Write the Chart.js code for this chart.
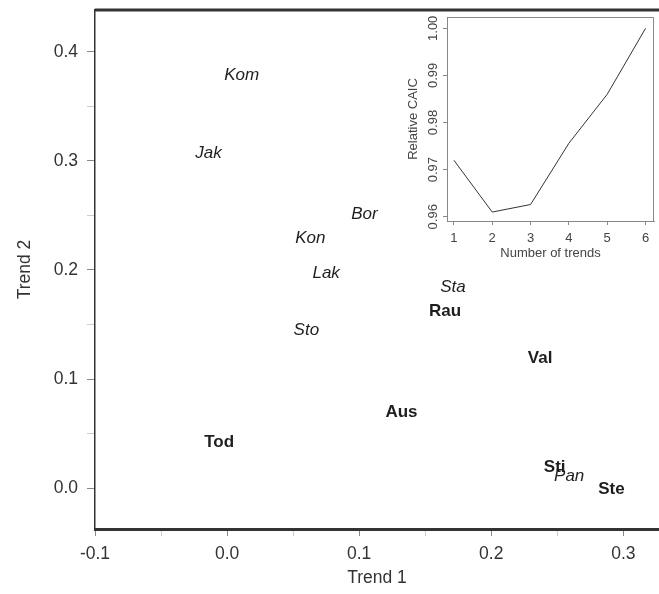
<!DOCTYPE html>
<html>
<head>
<meta charset="utf-8">
<script src="https://cdn.jsdelivr.net/npm/chart.js@4"></script>
<style>
  html, body { margin: 0; padding: 0; background: #fff; overflow: hidden; }
  #wrap { position: relative; width: 659px; height: 594px; }
  #mainChart { position: absolute; left: 0; top: 0; }
  #insetChart { position: absolute; left: 395px; top: 5px; }
</style>
</head>
<body>
<div id="wrap">
  <canvas id="mainChart" width="659" height="594"></canvas>
  <canvas id="insetChart" width="264" height="265"></canvas>
</div>
<script>
// Site scores on the first two trends
const sites = ['Kom', 'Jak', 'Bor', 'Kon', 'Lak', 'Sta', 'Rau', 'Sto', 'Val', 'Aus', 'Tod', 'Sti', 'Pan', 'Ste'];
const trend1 = [0.011, -0.014, 0.104, 0.063, 0.075, 0.171, 0.165, 0.060, 0.237, 0.132, -0.006, 0.248, 0.259, 0.291];
const trend2 = [0.379, 0.307, 0.251, 0.229, 0.197, 0.184, 0.162, 0.145, 0.119, 0.069, 0.042, 0.019, 0.011, -0.001];
// site group: 'A' drawn bold, 'B' drawn italic
const siteGroup = ['B', 'B', 'B', 'B', 'B', 'B', 'A', 'B', 'A', 'A', 'A', 'A', 'B', 'A'];

// Inset: model selection
const nTrends = [1, 2, 3, 4, 5, 6];
const relCaic = [0.972, 0.961, 0.9626, 0.9756, 0.986, 1.000];

const FONT = "'Liberation Sans', Arial, sans-serif";
const groupFont = { A: 'bold 17px ' + FONT, B: 'italic 17px ' + FONT };

function isMajor(v) {
  return Math.abs(v * 10 - Math.round(v * 10)) < 1e-6;
}

// Draws each site name at its score position
const siteLabels = {
  id: 'siteLabels',
  afterDatasetsDraw(chart) {
    const ctx = chart.ctx;
    const xs = chart.scales.x, ys = chart.scales.y;
    ctx.save();
    ctx.fillStyle = '#1e1e1e';
    ctx.textAlign = 'center';
    ctx.textBaseline = 'middle';
    sites.forEach((name, i) => {
      ctx.font = groupFont[siteGroup[i]];
      ctx.fillText(name, xs.getPixelForValue(trend1[i]), ys.getPixelForValue(trend2[i]));
    });
    ctx.restore();
  }
};

// Thick top frame line
const topFrame = {
  id: 'topFrame',
  afterDraw(chart) {
    const a = chart.chartArea, ctx = chart.ctx;
    ctx.save();
    ctx.strokeStyle = '#333';
    ctx.lineWidth = 3;
    ctx.beginPath();
    ctx.moveTo(a.left, a.top);
    ctx.lineTo(a.right, a.top);
    ctx.stroke();
    ctx.restore();
  }
};

const mainChart = new Chart(document.getElementById('mainChart'), {
  type: 'scatter',
  data: {
    datasets: [{
      data: sites.map((s, i) => ({ x: trend1[i], y: trend2[i] })),
      pointRadius: 0
    }]
  },
  options: {
    responsive: false,
    animation: false,
    layout: { padding: { top: 10, right: 0, left: 0, bottom: 0 } },
    plugins: { legend: { display: false }, tooltip: { enabled: false } },
    scales: {
      x: {
        type: 'linear',
        min: -0.1,
        max: 0.327,
        afterFit: s => { s.height = 65; s.paddingLeft = 0; s.paddingRight = 0; },
        ticks: {
          stepSize: 0.05,
          includeBounds: false,
          autoSkip: false,
          maxRotation: 0,
          padding: 8,
          color: '#333',
          font: { family: FONT, size: 17.5 },
          callback: v => isMajor(v) ? v.toFixed(1) : ''
        },
        grid: {
          drawOnChartArea: false,
          tickLength: 7,
          tickColor: c => isMajor(c.tick.value) ? '#888' : '#ccc'
        },
        border: { color: '#333', width: 3 },
        title: {
          display: true,
          text: 'Trend 1',
          color: '#333',
          font: { family: FONT, size: 17.5 },
          padding: { top: 0, bottom: 5 }
        }
      },
      y: {
        type: 'linear',
        min: -0.0376,
        max: 0.4385,
        afterFit: s => { s.width = 95; s.paddingTop = 0; s.paddingBottom = 0; },
        ticks: {
          stepSize: 0.05,
          includeBounds: false,
          autoSkip: false,
          padding: 9,
          color: '#333',
          font: { family: FONT, size: 17.5 },
          callback: v => isMajor(v) ? v.toFixed(1) : ''
        },
        grid: {
          drawOnChartArea: false,
          tickLength: 8,
          tickColor: c => isMajor(c.tick.value) ? '#888' : '#ccc'
        },
        border: { color: '#333', width: 1.5 },
        title: {
          display: true,
          text: 'Trend 2',
          color: '#333',
          font: { family: FONT, size: 17.5 },
          padding: { top: 15, bottom: 0 }
        }
      }
    }
  },
  plugins: [siteLabels, topFrame]
});

// Inset frame and rotated y tick labels
const insetExtras = {
  id: 'insetExtras',
  afterDraw(chart) {
    const a = chart.chartArea, ctx = chart.ctx;
    const ys = chart.scales.y;
    ctx.save();
    ctx.strokeStyle = '#888';
    ctx.lineWidth = 1;
    ctx.beginPath();
    ctx.moveTo(a.left, a.top + 0.5);
    ctx.lineTo(a.right - 0.5, a.top + 0.5);
    ctx.lineTo(a.right - 0.5, a.bottom);
    ctx.stroke();
    ctx.fillStyle = '#444';
    ctx.font = '13px ' + FONT;
    ctx.textAlign = 'center';
    ctx.textBaseline = 'middle';
    ys.ticks.forEach(t => {
      const y = ys.getPixelForValue(t.value);
      ctx.save();
      ctx.translate(a.left - 14, y);
      ctx.rotate(-Math.PI / 2);
      ctx.fillText(t.value.toFixed(2), 0, 0);
      ctx.restore();
    });
    ctx.restore();
  }
};

const insetChart = new Chart(document.getElementById('insetChart'), {
  type: 'line',
  data: {
    datasets: [{
      data: nTrends.map((n, i) => ({ x: n, y: relCaic[i] })),
      borderColor: '#333',
      borderWidth: 1,
      pointRadius: 0,
      tension: 0,
      fill: false
    }]
  },
  options: {
    responsive: false,
    animation: false,
    layout: { padding: { top: 12, right: 5, left: 0, bottom: 0 } },
    plugins: { legend: { display: false }, tooltip: { enabled: false } },
    scales: {
      x: {
        type: 'linear',
        min: 0.82,
        max: 6.22,
        afterFit: s => { s.height = 49; s.paddingLeft = 0; s.paddingRight = 0; },
        ticks: {
          stepSize: 1,
          includeBounds: false,
          autoSkip: false,
          maxRotation: 0,
          padding: 6,
          color: '#444',
          font: { family: FONT, size: 13 }
        },
        grid: { drawOnChartArea: false, tickLength: 4, tickColor: '#888' },
        border: { color: '#888', width: 1 },
        title: {
          display: true,
          text: 'Number of trends',
          color: '#444',
          font: { family: FONT, size: 13 },
          padding: { top: 0, bottom: 9 }
        }
      },
      y: {
        type: 'linear',
        min: 0.9591,
        max: 1.0024,
        afterFit: s => { s.width = 52; s.paddingTop = 0; s.paddingBottom = 0; },
        ticks: {
          stepSize: 0.01,
          includeBounds: false,
          display: false
        },
        grid: { drawOnChartArea: false, tickLength: 4, tickColor: '#888' },
        border: { color: '#888', width: 1 },
        title: {
          display: true,
          text: 'Relative CAIC',
          color: '#444',
          font: { family: FONT, size: 13 },
          padding: { top: 11, bottom: 0 }
        }
      }
    }
  },
  plugins: [insetExtras]
});
</script>
</body>
</html>
